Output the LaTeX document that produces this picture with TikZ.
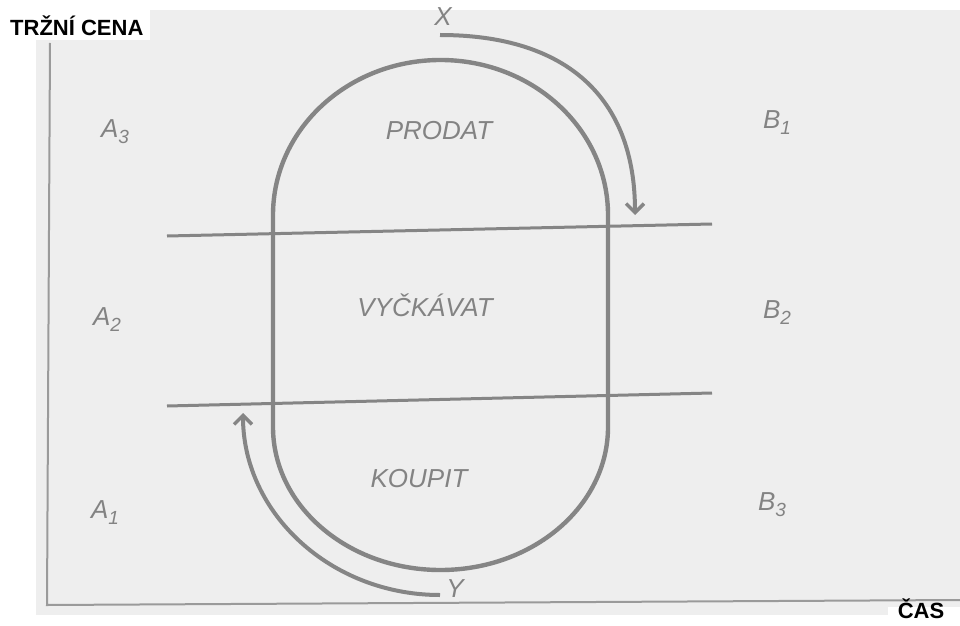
\documentclass[tikz,border=0pt]{standalone}
\usepackage{fontspec}
\setmainfont{Liberation Sans}
\usetikzlibrary{arrows.meta}
\definecolor{page}{HTML}{EEEEEE}
\definecolor{ink}{HTML}{858585}
\definecolor{axisink}{HTML}{9A9A9A}
\definecolor{lab}{HTML}{838383}
\tikzset{
  loopline/.style={draw=ink, line width=4.4pt},
  levelline/.style={draw=ink, line width=3pt},
  axisline/.style={draw=axisink, line width=2pt},
  turnarrow/.style={draw=ink, line width=4pt, -{Straight Barb[length=9pt,width=18pt,line width=3.5pt]}},
  hand/.style={text=lab, font=\fontsize{26}{30}\selectfont\itshape, inner sep=0pt},
  title/.style={text=black, font=\fontsize{22}{26}\selectfont\bfseries, inner sep=0pt}
}
\newcommand{\sbs}[1]{\raisebox{-6pt}{\fontsize{19}{20}\selectfont #1}}
\begin{document}
\begin{tikzpicture}[x=1pt,y=1pt]
\useasboundingbox (0,0) rectangle (960,625);
\fill[white] (0,0) rectangle (960,625);
\fill[page] (36,10) rectangle (960,615);
\fill[white] (0,585) rectangle (150,615);
\fill[white] (888,0) rectangle (960,18);

% axes
\coordinate (ytop) at (50,582);
\coordinate (orig) at (47,20);
\coordinate (xend) at (960,25);
\draw[axisline] (ytop) -- (orig) -- (xend);

% level lines
\coordinate (u1) at (167,389);
\coordinate (u2) at (712,401);
\coordinate (l1) at (167,219);
\coordinate (l2) at (712,232);
\draw[levelline] (u1) -- (u2);
\draw[levelline] (l1) -- (l2);

% closed loop
\coordinate (lt) at (273,410);
\draw[loopline] (lt) arc[start angle=180, end angle=0, x radius=167.5pt, y radius=155pt]
  -- (608,198) arc[start angle=0, end angle=-180, x radius=167.5pt, y radius=143pt] -- cycle;

% turning arrows
\coordinate (xs) at (440,590);
\coordinate (xe) at (635,410);
\draw[turnarrow] (xs) .. controls (567,590) and (635,527) .. (xe);
\coordinate (ys) at (440,30);
\draw[turnarrow] (ys) arc[start angle=270, end angle=180, x radius=197pt, y radius=182pt];

% labels
\node[hand] (X) at (443,608) {X};
\node[hand] (Y) at (455,36) {Y};
\node[hand] (prodat) at (439,494) {PRODAT};
\node[hand] (vyck) at (425,320) {VYČKÁVAT};
\node[hand] (koupit) at (419,146) {KOUPIT};
\node[hand] (A3) at (115,493) {A\sbs{3}};
\node[hand] (A2) at (107,305) {A\sbs{2}};
\node[hand] (A1) at (105,112) {A\sbs{1}};
\node[hand] (B1) at (777,502) {B\sbs{1}};
\node[hand] (B2) at (777,312) {B\sbs{2}};
\node[hand] (B3) at (772,120) {B\sbs{3}};
\node[title, anchor=west] (ycap) at (10,599) {TRŽNÍ CENA};
\node[title] (xcap) at (921,16) {ČAS};
\end{tikzpicture}
\end{document}
